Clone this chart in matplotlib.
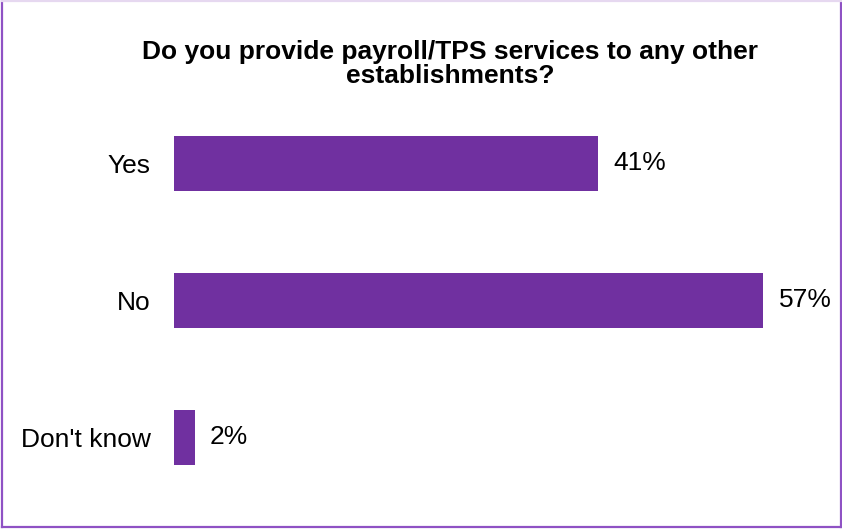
import matplotlib
matplotlib.use("Agg")
import matplotlib.pyplot as plt
from matplotlib.lines import Line2D

plt.rcParams['font.family'] = ['Liberation Sans', 'DejaVu Sans']

categories = ["Yes", "No", "Don't know"]
values = [41, 57, 2]
value_labels = ["41%", "57%", "2%"]
title = "Do you provide payroll/TPS services to any other\nestablishments?"

bar_color = "#7030A0"
W, H = 842, 529
fig = plt.figure(figsize=(W / 100, H / 100), dpi=100)

ax = fig.add_axes([174 / W, 1 - 506 / H, 626 / W, (506 - 94.5) / H])
ypos = list(range(len(categories)))
ax.barh(ypos, values, height=0.4, color=bar_color)
ax.set_xlim(0, 626 / 10.34)
ax.set_ylim(2.5, -0.5)
ax.set_yticks(ypos)
ax.set_yticklabels(categories, fontsize=19)
ax.tick_params(axis='y', length=0, pad=17)
ax.set_xticks([])
for s in ax.spines.values():
    s.set_visible(False)

for y, v, lab in zip(ypos, values, value_labels):
    ax.annotate(lab, (v, y), xytext=(11, 0), textcoords='offset points',
                va='center', ha='left', fontsize=19)

fig.text(450 / W, 1 - 64 / H, title, ha='center', va='center',
         fontsize=19, fontweight='bold', linespacing=1.0)

# figure frame: purple on three sides, faint on top
frame = "#8f52c4"
x0, x1 = 2 / W, 1 - 1.5 / W
y0, y1 = 2 / H, 1 - 0.5 / H
for xs, ys, c in [([x0, x0], [y0, y1], frame),
                  ([x1, x1], [y0, y1], frame),
                  ([x0, x1], [y0, y0], frame),
                  ([x0, x1], [y1, y1], "#e6d8f0")]:
    fig.add_artist(Line2D(xs, ys, transform=fig.transFigure, color=c, linewidth=1.6))

fig.savefig("out.png", dpi=100)
